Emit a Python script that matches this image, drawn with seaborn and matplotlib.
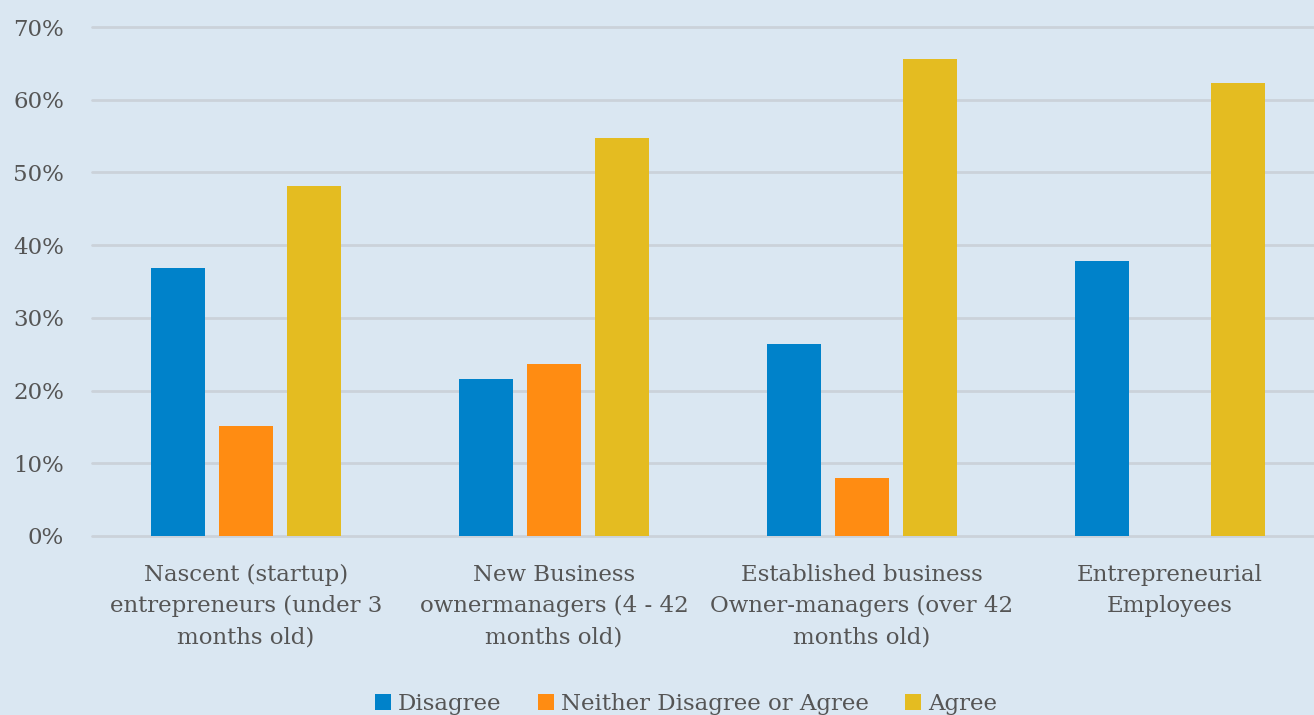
import pandas as pd
import matplotlib
matplotlib.use("Agg")
import matplotlib.pyplot as plt
import seaborn as sns
from matplotlib.ticker import PercentFormatter

# ================================
# DATA
# ================================
groups = [
    "Nascent (startup)\nentrepreneurs (under 3\nmonths old)",
    "New Business\nownermanagers (4 - 42\nmonths old)",
    "Established business\nOwner-managers (over 42\nmonths old)",
    "Entrepreneurial\nEmployees",
]
responses = ["Disagree", "Neither Disagree or Agree", "Agree"]
disagree = [36.9, 21.6, 26.4, 37.8]
neither = [15.1, 23.7, 8.0, 0.0]
agree = [48.1, 54.7, 65.6, 62.3]

colors = ["#0082CA", "#FF8C12", "#E4BC21"]
bg = "#DAE7F2"
text_col = "#555555"

rows = []
for series, vals in zip(responses, [disagree, neither, agree]):
    for g, v in zip(groups, vals):
        rows.append({"Group": g, "Response": series, "Value": v})
df = pd.DataFrame(rows)

# ================================
# PLOT
# ================================
sns.set_style("white")
plt.rcParams["font.family"] = ["DejaVu Serif"]

fig = plt.figure(figsize=(13.14, 7.15), dpi=100, facecolor=bg)
ax = fig.add_axes([92 / 1314, 179 / 715, 1232 / 1314, 509 / 715])
ax.set_facecolor(bg)

sns.barplot(data=df, x="Group", y="Value", hue="Response", order=groups,
            hue_order=responses, palette=colors, width=0.66, gap=0.2,
            saturation=1, linewidth=0, ax=ax, zorder=3)

ax.set_ylim(0, 70)
ax.set_yticks(range(0, 71, 10))
ax.yaxis.set_major_formatter(PercentFormatter(decimals=0))
ax.grid(axis="y", color="#CBD2DA", linewidth=2, zorder=0)
for gl in ax.get_ygridlines():
    gl.set_clip_on(False)
ax.set_axisbelow(True)
for s in ax.spines.values():
    s.set_visible(False)
ax.set_xlabel("")
ax.set_ylabel("")
ax.tick_params(axis="both", length=0, labelsize=16.5, colors=text_col)
ax.tick_params(axis="x", pad=20)
ax.tick_params(axis="y", pad=20)
for lbl in ax.get_xticklabels():
    lbl.set_linespacing(1.55)

handles, labels = ax.get_legend_handles_labels()
ax.get_legend().remove()
fig.legend(handles, labels, loc="center", bbox_to_anchor=(0.522, 0.016),
           ncol=3, frameon=False, fontsize=16.5, labelcolor=text_col,
           handlelength=0.7, handleheight=0.7, handletextpad=0.3,
           columnspacing=1.6)

plt.savefig("out.png", dpi=100, facecolor=bg)
